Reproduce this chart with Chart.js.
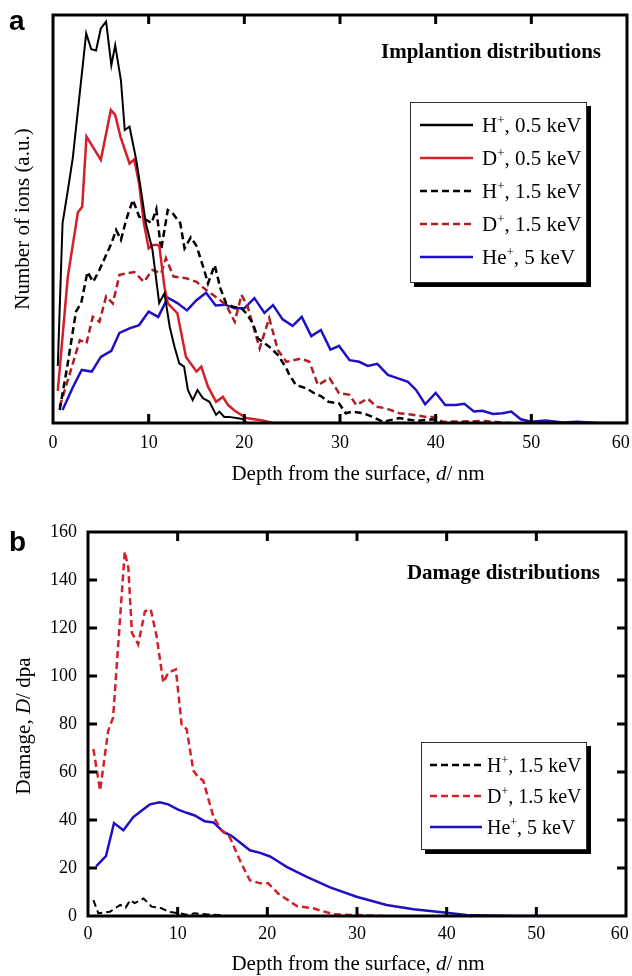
<!DOCTYPE html>
<html>
<head>
<meta charset="utf-8">
<script src="https://cdn.jsdelivr.net/npm/chart.js@4.4.1/dist/chart.umd.min.js"></script>
<style>
  html, body { margin: 0; padding: 0; background: #fff; }
  body { width: 632px; height: 976px; position: relative; overflow: hidden; }
  canvas { position: absolute; left: 0; }
  #implant { top: 0; }
  #damage { top: 490px; }
</style>
</head>
<body>
<canvas id="implant" width="632" height="490"></canvas>
<canvas id="damage" width="632" height="486"></canvas>
<script>
// tick labels
const depthTicks = [0, 10, 20, 30, 40, 50, 60];
const damageTicks = [0, 20, 40, 60, 80, 100, 120, 140, 160];

// (a) implantation, arbitrary units (0..100 = full axis)
const h05Depth = [0.5, 1.0, 1.55, 2.07, 3.47, 4.0, 4.5, 5.0, 5.55, 6.1, 6.5, 7.1, 7.5, 8.0, 8.7, 9.2, 9.7, 10.4, 11.1, 11.65, 12.2, 12.7, 13.2, 13.7, 14.1, 14.6, 15.1, 15.65, 16.35, 17.05, 17.4, 17.9, 18.4, 19.8, 20.3, 25];
const h05Ions = [14, 49, 57, 65, 95.5, 91.6, 91.3, 96.7, 98.4, 87.7, 92.6, 84, 71.8, 72.6, 64.5, 57, 49, 42.4, 29.4, 31.8, 23.6, 18.7, 14.6, 13.8, 8.1, 5.6, 8.1, 6.1, 5.2, 2.0, 2.8, 1.5, 1.5, 1.0, 0, 0];

const d05Depth = [0.5, 1.55, 2.6, 3.05, 3.5, 5.0, 6.05, 6.5, 7.05, 8.0, 8.5, 9.0, 9.5, 10.0, 10.4, 11.1, 11.65, 12.0, 13.0, 13.9, 15.0, 15.5, 16.2, 17.05, 17.75, 18.3, 19.0, 20.2, 21.9, 23, 30];
const d05Ions = [7.9, 35.9, 51.6, 53, 70.2, 64.5, 76.7, 75.5, 70.2, 63.6, 64.6, 58.7, 49, 42.8, 43.6, 43.6, 33.4, 29.3, 26.9, 16.2, 12.6, 13.8, 8.9, 5.2, 6.4, 4.4, 3.0, 1.2, 0.6, 0, 0];

const h15Depth = [0.7, 1.5, 2.4, 2.95, 3.6, 4.2, 4.85, 6.1, 6.6, 7.1, 7.65, 8.35, 9.0, 9.6, 10.3, 10.8, 11.3, 12.0, 12.5, 13.3, 13.75, 14.4, 15.0, 15.8, 16.2, 16.9, 17.5, 18.1, 18.8, 19.7, 20.2, 20.9, 21.4, 22.6, 23.5, 24.4, 24.7, 25.4, 26.5, 27.3, 28.0, 28.8, 29.9, 30.6, 31.3, 32.4, 33.4, 34.5, 36.2, 38, 39.7, 40.7, 45];
const h15Ions = [3.2, 14, 27.3, 29.4, 37, 34.6, 37.5, 44, 47.3, 44.9, 49.8, 54.7, 50.6, 50, 49, 52.4, 42.4, 52.2, 51.4, 49, 42.8, 45.5, 43.4, 37.5, 34.2, 38.7, 33, 29.3, 28.5, 28.1, 26.9, 24.4, 20.8, 18.7, 16.7, 13.4, 11.8, 9.3, 8.5, 7.3, 6.6, 5.2, 4.8, 2.4, 2.8, 2.4, 1.5, 0.3, 1.2, 0.5, 0.9, 0, 0];

const d15Depth = [0.7, 1.55, 2.8, 3.5, 4.15, 4.85, 5.55, 6.25, 6.95, 7.8, 8.5, 9.5, 10.4, 11.3, 11.8, 12.6, 13.9, 15.0, 16.0, 17.2, 18.1, 19.0, 19.7, 20.35, 21.6, 22.6, 23.5, 24.4, 25.9, 26.8, 27.7, 28.9, 29.9, 31.0, 31.7, 32.9, 33.8, 34.8, 36.2, 37.6, 39, 40, 40.7, 45, 47.7];
const d15Ions = [4, 10.5, 20.3, 19.5, 26, 24.8, 31, 29.3, 36.3, 36.7, 37, 34.6, 37.5, 36.7, 40.4, 35.9, 35.5, 34.6, 32.6, 30.6, 28.9, 24.8, 31.4, 28.5, 18.3, 25.7, 17.9, 15, 15.8, 15, 9.3, 11, 7.3, 6.9, 4.4, 6, 4, 3.6, 2.4, 2, 1.5, 1.5, 0.3, 0.5, 0];

const he5Depth = [1.0, 2.1, 3.0, 4.05, 5.0, 6.1, 6.95, 8.0, 9.0, 10.0, 11.0, 12.0, 13.0, 14.0, 15.0, 16.0, 17.0, 18.0, 19.0, 20.0, 21.05, 22.1, 23.0, 24.0, 25.05, 26.0, 27.0, 28.0, 29.0, 29.9, 31.0, 32.0, 32.9, 33.9, 35.0, 36.0, 37.1, 37.95, 38.9, 40.0, 41.0, 42.1, 43.0, 44.0, 44.9, 46.0, 47.0, 47.9, 48.9, 50.0, 51.5, 53.3, 54.8, 57.1, 60];
const he5Ions = [3.2, 8.9, 13, 12.6, 16.2, 17.7, 22.1, 23.2, 24, 27.3, 26, 30.7, 29.4, 27.6, 30.1, 31.9, 28.8, 29, 28.1, 28.1, 30.6, 27, 28.9, 25.4, 23.8, 26, 21.3, 22.8, 18, 18.9, 15.4, 15, 14, 14.5, 11.8, 11, 10.1, 8.1, 4.6, 7.4, 4.4, 4.4, 4.7, 2.8, 3, 2.2, 2.4, 2.8, 0.9, 0.3, 0.6, 0.1, 0.3, 0, 0];

// (b) damage, dpa
const dmgH15Depth = [0.6, 1.15, 2.45, 3.6, 4.2, 4.7, 5.2, 6.2, 7.1, 8.2, 8.95, 10.25, 11.0, 11.9, 13.2, 14.7, 15.5, 20];
const dmgH15 = [6.6, 1.1, 1.8, 4.6, 3.5, 6.6, 5.4, 7.3, 3.9, 3.2, 1.8, 1.1, 0.5, 1.1, 0.7, 0.4, 0, 0];

const dmgD15Depth = [0.6, 1.35, 2.25, 2.8, 4.1, 4.5, 4.9, 5.6, 6.35, 7.0, 7.65, 8.4, 8.95, 9.8, 10.45, 11.0, 11.75, 12.3, 12.85, 14.0, 14.9, 15.8, 17.1, 18.05, 19.2, 20.1, 21.2, 23.3, 25.1, 27.3, 29.6, 33];
const dmgD15 = [69.6, 52.3, 77.2, 82.7, 151.9, 145, 118, 113.2, 127, 127.7, 116.6, 97.2, 101.4, 102.8, 79.3, 77.9, 60.6, 57.8, 56.4, 41.2, 35.7, 32.9, 21.9, 14.9, 13.6, 13.6, 9.4, 4.1, 3.2, 0.8, 0.4, 0];

const dmgHeDepth = [0.9, 2.0, 2.9, 3.95, 5.05, 6.0, 6.9, 8.0, 8.95, 10.05, 11.0, 11.9, 13.0, 14.0, 15.1, 16.0, 17.1, 18.05, 19.2, 20.3, 21.3, 22.15, 24.4, 27.0, 29.95, 33.3, 36.3, 40.0, 42.2, 46, 48, 60];
const dmgHe = [20.7, 24.9, 38.7, 35.7, 41.2, 44, 46.5, 47.4, 46.5, 44.3, 43, 41.9, 39.5, 39, 35, 33.4, 30.2, 27.4, 26.3, 24.8, 22.5, 20.5, 16.3, 11.9, 8, 4.6, 2.8, 1.4, 0.4, 0.1, 0, 0];

const SERIF = '"Liberation Serif", "Times New Roman", serif';
const SANS = '"Liberation Sans", Arial, sans-serif';
const BLACK = '#000000';
const RED = '#d3202a';
const DARK_RED = '#b01e24';
const BLUE = '#1f10c4';
const DASH = [7, 4];

const zip = (xs, ys) => xs.map((x, i) => ({ x: x, y: ys[i] }));

function series(label, xs, ys, color, width, dash) {
    return {
        label: label,
        data: zip(xs, ys),
        borderColor: color,
        borderWidth: width,
        borderDash: dash || [],
        pointRadius: 0,
        tension: 0,
        fill: false
    };
}

// text runs: {t, i (italic), sup}
function drawRich(ctx, parts, x, y, o) {
    const size = o.size;
    const fam = o.family || SERIF;
    const fontFor = p => (p.i ? 'italic ' : '') + (o.bold ? 'bold ' : '') +
        (p.sup ? Math.round(size * 0.6) : size) + 'px ' + fam;
    let total = 0;
    parts.forEach(p => { ctx.font = fontFor(p); total += ctx.measureText(p.t).width; });
    ctx.save();
    ctx.translate(x, y);
    if (o.rotate) ctx.rotate(o.rotate);
    let cx = o.align === 'center' ? -total / 2 : (o.align === 'right' ? -total : 0);
    ctx.textAlign = 'left';
    ctx.textBaseline = 'alphabetic';
    ctx.fillStyle = '#000';
    parts.forEach(p => {
        ctx.font = fontFor(p);
        ctx.fillText(p.t, cx, p.sup ? -size * 0.4 : 0);
        cx += ctx.measureText(p.t).width;
    });
    ctx.restore();
}

function labelParts(label) {
    const bits = label.split('\u207A');
    return [{ t: bits[0] }, { t: '+', sup: true }, { t: bits[1] }];
}

const framePlugin = {
    id: 'frame',
    afterDraw(chart, args, opts) {
        const { ctx, chartArea: a, scales } = chart;
        const len = 9;
        ctx.save();
        ctx.strokeStyle = '#000';
        ctx.lineWidth = 3;
        ctx.strokeRect(a.left, a.top, a.right - a.left, a.bottom - a.top);
        ctx.beginPath();
        scales.x.ticks.forEach(t => {
            const px = scales.x.getPixelForValue(t.value);
            if (px <= a.left + 2 || px >= a.right - 2) return;
            ctx.moveTo(px, a.bottom); ctx.lineTo(px, a.bottom - len);
            ctx.moveTo(px, a.top); ctx.lineTo(px, a.top + len);
        });
        if (opts.yTicks) {
            scales.y.ticks.forEach(t => {
                const py = scales.y.getPixelForValue(t.value);
                if (py <= a.top + 2 || py >= a.bottom - 2) return;
                ctx.moveTo(a.left, py); ctx.lineTo(a.left + len, py);
                ctx.moveTo(a.right, py); ctx.lineTo(a.right - len, py);
            });
        }
        ctx.stroke();
        ctx.restore();
    }
};

const legendPlugin = {
    id: 'boxLegend',
    afterDraw(chart, args, o) {
        const ctx = chart.ctx;
        ctx.save();
        ctx.fillStyle = '#000';
        ctx.fillRect(o.x + 4, o.y + 4, o.w, o.h);
        ctx.fillStyle = '#fff';
        ctx.fillRect(o.x, o.y, o.w, o.h);
        ctx.strokeStyle = '#333';
        ctx.lineWidth = 1;
        ctx.strokeRect(o.x + 0.5, o.y + 0.5, o.w - 1, o.h - 1);
        chart.data.datasets.forEach((ds, i) => {
            const ry = o.rowY + i * o.rowH;
            ctx.beginPath();
            ctx.strokeStyle = ds.borderColor;
            ctx.lineWidth = Math.max(ds.borderWidth, 2.5);
            ctx.setLineDash(ds.borderDash);
            ctx.moveTo(o.lineX, ry);
            ctx.lineTo(o.lineX + o.lineLen, ry);
            ctx.stroke();
            ctx.setLineDash([]);
            drawRich(ctx, labelParts(ds.label), o.textX, ry + 7, { size: o.size });
        });
        ctx.restore();
    }
};

const textPlugin = {
    id: 'texts',
    afterDraw(chart, args, o) {
        o.items.forEach(it => drawRich(chart.ctx, it.parts, it.x, it.y, it));
    }
};

// last label sits a little inside the right edge, as in the original
const depthLabel = v => (v === 60 ? '60\u2002\u2009' : String(v));

function makeChart(canvas, datasets, cfg) {
    return new Chart(canvas, {
        type: 'line',
        data: { datasets: datasets },
        plugins: [framePlugin, legendPlugin, textPlugin],
        options: {
            responsive: false,
            animation: false,
            devicePixelRatio: 1,
            layout: { padding: cfg.padding },
            scales: {
                x: {
                    type: 'linear',
                    min: 0,
                    max: 60,
                    afterBuildTicks: s => { s.ticks = depthTicks.map(v => ({ value: v })); },
                    afterFit: s => { s.height = cfg.xHeight; s.paddingLeft = 0; s.paddingRight = 0; },
                    grid: { display: false },
                    border: { display: false },
                    ticks: { padding: cfg.xPad, color: '#000', font: { family: SERIF, size: 18 }, callback: depthLabel }
                },
                y: {
                    type: 'linear',
                    min: 0,
                    max: cfg.yMax,
                    afterBuildTicks: s => { if (cfg.yTicks) s.ticks = cfg.yTicks.map(v => ({ value: v })); },
                    afterFit: s => { s.width = cfg.yWidth; s.paddingTop = 0; s.paddingBottom = 0; },
                    grid: { display: false },
                    border: { display: false },
                    ticks: { display: !!cfg.yTicks, padding: 3, color: '#000', font: { family: SERIF, size: 18 } }
                }
            },
            plugins: {
                legend: { display: false },
                tooltip: { enabled: false },
                frame: { yTicks: !!cfg.yTicks },
                boxLegend: cfg.legend,
                texts: { items: cfg.texts }
            }
        }
    });
}

const depthTitle = [{ t: 'Depth from the surface, ' }, { t: 'd', i: true }, { t: '/ nm' }];

makeChart(document.getElementById('implant'), [
    series('H\u207A, 0.5 keV', h05Depth, h05Ions, BLACK, 2),
    series('D\u207A, 0.5 keV', d05Depth, d05Ions, RED, 2.5),
    series('H\u207A, 1.5 keV', h15Depth, h15Ions, BLACK, 2.5, DASH),
    series('D\u207A, 1.5 keV', d15Depth, d15Ions, DARK_RED, 2.5, DASH),
    series('He\u207A, 5 keV', he5Depth, he5Ions, BLUE, 2.5)
], {
    padding: { top: 15, right: 5, left: 0, bottom: 0 },
    xHeight: 67,
    yWidth: 53,
    xPad: 1,
    yMax: 100,
    yTicks: null,
    legend: { x: 410, y: 102, w: 177, h: 181, rowY: 125, rowH: 33, lineX: 420, lineLen: 53, textX: 482, size: 21 },
    texts: [
        { parts: [{ t: 'a' }], x: 9, y: 30, size: 28, bold: true, family: SANS },
        { parts: [{ t: 'Implantion distributions' }], x: 601, y: 58, size: 21, bold: true, align: 'right' },
        { parts: depthTitle, x: 358, y: 480, size: 21, align: 'center' },
        { parts: [{ t: 'Number of ions (a.u.)' }], x: 29, y: 219, size: 21, align: 'center', rotate: -Math.PI / 2 }
    ]
});

makeChart(document.getElementById('damage'), [
    series('H\u207A, 1.5 keV', dmgH15Depth, dmgH15, BLACK, 2, DASH),
    series('D\u207A, 1.5 keV', dmgD15Depth, dmgD15, RED, 2.5, DASH),
    series('He\u207A, 5 keV', dmgHeDepth, dmgHe, BLUE, 2.5)
], {
    padding: { top: 42, right: 6, left: 0, bottom: 0 },
    xHeight: 60,
    yWidth: 88,
    xPad: -1,
    yMax: 160,
    yTicks: damageTicks,
    legend: { x: 421, y: 252, w: 166, h: 108, rowY: 275, rowH: 31, lineX: 430, lineLen: 52, textX: 487, size: 20 },
    texts: [
        { parts: [{ t: 'b' }], x: 9, y: 61, size: 28, bold: true, family: SANS },
        { parts: [{ t: 'Damage distributions' }], x: 600, y: 89, size: 21, bold: true, align: 'right' },
        { parts: depthTitle, x: 358, y: 480, size: 21, align: 'center' },
        { parts: [{ t: 'Damage, ' }, { t: 'D', i: true }, { t: '/ dpa' }], x: 30, y: 236, size: 21, align: 'center', rotate: -Math.PI / 2 }
    ]
});
</script>
</body>
</html>
